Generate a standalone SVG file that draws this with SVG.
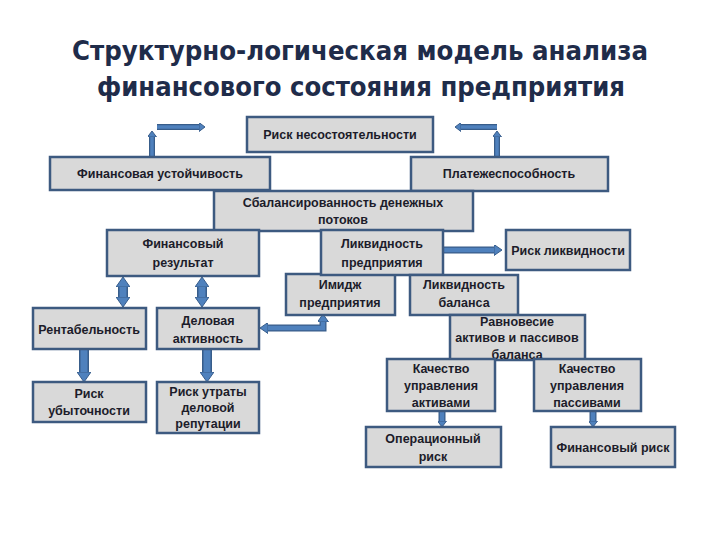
<svg xmlns="http://www.w3.org/2000/svg" width="720" height="540" viewBox="0 0 720 540">
<style>
.box{fill:#d9d9d9;stroke:#3d5a80;stroke-width:2.5}
.t{font-family:"Liberation Sans",Arial,sans-serif;font-size:12.5px;font-weight:bold;fill:#1c1c2a;text-anchor:middle}
.ttl{font-family:"DejaVu Sans",sans-serif;font-size:27px;font-weight:bold;fill:#1f2c4a;text-anchor:middle}
.ao{fill:none;stroke:#385d8a}
.ai{fill:none;stroke:#4f81bd}
</style>
<defs>
<marker id="ah" viewBox="0 0 10 14" refX="0" refY="7" markerWidth="10" markerHeight="14" markerUnits="userSpaceOnUse" orient="auto-start-reverse"><path d="M0,0 L10,7 L0,14 z" fill="#4f81bd" stroke="#385d8a" stroke-width="1"/></marker>
<marker id="am" viewBox="0 0 8 11" refX="0" refY="5.5" markerWidth="8" markerHeight="11" markerUnits="userSpaceOnUse" orient="auto-start-reverse"><path d="M0,0 L8,5.5 L0,11 z" fill="#4f81bd" stroke="#385d8a" stroke-width="1"/></marker>
<marker id="as" viewBox="0 0 6 9" refX="0" refY="4.5" markerWidth="6" markerHeight="9" markerUnits="userSpaceOnUse" orient="auto-start-reverse"><path d="M0,0 L6,4.5 L0,9 z" fill="#4f81bd" stroke="#385d8a" stroke-width="1"/></marker>
</defs>
<rect width="720" height="540" fill="#ffffff"/>
<g id="title">
<text class="ttl" x="360" y="60" textLength="576" lengthAdjust="spacingAndGlyphs">Структурно-логическая модель анализа</text>
<text class="ttl" x="361" y="96" textLength="528" lengthAdjust="spacingAndGlyphs">финансового состояния предприятия</text>
</g>
<g id="connectors">
<path class="ao" stroke-width="6" d="M152,157 L152,137"/><path class="ai" stroke-width="3.5" d="M152,157 L152,137" marker-end="url(#as)"/>
<path class="ao" stroke-width="6" d="M157,127 L199,127"/><path class="ai" stroke-width="3.5" d="M157,127 L199,127" marker-end="url(#as)"/>
<path class="ao" stroke-width="6" d="M497,157 L497,137"/><path class="ai" stroke-width="3.5" d="M497,157 L497,137" marker-end="url(#as)"/>
<path class="ao" stroke-width="6" d="M497,127 L461,127"/><path class="ai" stroke-width="3.5" d="M497,127 L461,127" marker-end="url(#as)"/>
<path class="ao" stroke-width="7" d="M443,250 L494,250"/><path class="ai" stroke-width="4.5" d="M443,250 L494,250" marker-end="url(#am)"/>
<path class="ao" stroke-width="10" d="M123,287 L123,297"/><path class="ai" stroke-width="7" d="M123,287 L123,297" marker-start="url(#ah)" marker-end="url(#ah)"/>
<path class="ao" stroke-width="10" d="M202,287 L202,297"/><path class="ai" stroke-width="7" d="M202,287 L202,297" marker-start="url(#ah)" marker-end="url(#ah)"/>
<path class="ao" stroke-width="10" d="M84,350 L84,372"/><path class="ai" stroke-width="7" d="M84,350 L84,372" marker-end="url(#ah)"/>
<path class="ao" stroke-width="10" d="M207,350 L207,372"/><path class="ai" stroke-width="7" d="M207,350 L207,372" marker-end="url(#ah)"/>
<path class="ao" stroke-width="7" d="M323,322 L323,328 L268,328"/><path class="ai" stroke-width="4.5" d="M323,322 L323,328 L268,328" marker-start="url(#am)" marker-end="url(#am)"/>
<path class="ao" stroke-width="7" d="M442,412 L442,421"/><path class="ai" stroke-width="4.5" d="M442,412 L442,421" marker-end="url(#as)"/>
<path class="ao" stroke-width="7" d="M593,412 L593,421"/><path class="ai" stroke-width="4.5" d="M593,412 L593,421" marker-end="url(#as)"/>
</g>
<g id="n-risk-insolv"><rect class="box" x="247" y="117" width="186" height="35"/><text class="t" x="340" y="139">Риск несостоятельности</text></g>
<g id="n-fin-ust"><rect class="box" x="50" y="157" width="220" height="33"/><text class="t" x="160" y="178">Финансовая устойчивость</text></g>
<g id="n-plat"><rect class="box" x="411" y="157" width="197" height="34"/><text class="t" x="509" y="178">Платежеспособность</text></g>
<g id="n-balans-pot"><rect class="box" x="214" y="191" width="259" height="40"/><text class="t" x="343" y="207">Сбалансированность денежных</text><text class="t" x="343" y="224">потоков</text></g>
<g id="n-fin-res"><rect class="box" x="107" y="230" width="152" height="46"/><text class="t" x="183" y="248">Финансовый</text><text class="t" x="183" y="267">результат</text></g>
<g id="n-imidzh"><rect class="box" x="286" y="274" width="109" height="41"/><text class="t" x="340" y="289">Имидж</text><text class="t" x="340" y="307">предприятия</text></g>
<g id="n-likv-pr"><rect class="box" x="321" y="230" width="122" height="45"/><text class="t" x="382" y="248">Ликвидность</text><text class="t" x="382" y="267">предприятия</text></g>
<g id="n-risk-likv"><rect class="box" x="506" y="230" width="124" height="40"/><text class="t" x="568" y="255">Риск ликвидности</text></g>
<g id="n-likv-bal"><rect class="box" x="410" y="275" width="108" height="40"/><text class="t" x="464" y="289">Ликвидность</text><text class="t" x="464" y="307">баланса</text></g>
<g id="n-ravn"><rect class="box" x="450" y="315" width="135" height="45"/><text class="t" x="517" y="326">Равновесие</text><text class="t" x="517" y="342">активов и пассивов</text><text class="t" x="517" y="359">баланса</text></g>
<g id="n-kach-akt"><rect class="box" x="387" y="359" width="108" height="52"/><text class="t" x="441" y="373">Качество</text><text class="t" x="441" y="390">управления</text><text class="t" x="441" y="407">активами</text></g>
<g id="n-kach-pas"><rect class="box" x="534" y="359" width="107" height="52"/><text class="t" x="587" y="373">Качество</text><text class="t" x="587" y="390">управления</text><text class="t" x="587" y="407">пассивами</text></g>
<g id="n-oper"><rect class="box" x="366" y="427" width="135" height="40"/><text class="t" x="433" y="443">Операционный</text><text class="t" x="433" y="461">риск</text></g>
<g id="n-fin-risk"><rect class="box" x="551" y="427" width="124" height="40"/><text class="t" x="613" y="452">Финансовый риск</text></g>
<g id="n-rent"><rect class="box" x="33" y="308" width="113" height="41"/><text class="t" x="89" y="334">Рентабельность</text></g>
<g id="n-del"><rect class="box" x="157" y="308" width="102" height="41"/><text class="t" x="208" y="325">Деловая</text><text class="t" x="208" y="343">активность</text></g>
<g id="n-risk-ub"><rect class="box" x="33" y="382" width="113" height="40"/><text class="t" x="89" y="398">Риск</text><text class="t" x="89" y="415">убыточности</text></g>
<g id="n-risk-rep"><rect class="box" x="157" y="382" width="102" height="51"/><text class="t" x="208" y="396">Риск утраты</text><text class="t" x="208" y="412">деловой</text><text class="t" x="208" y="428">репутации</text></g>
</svg>
